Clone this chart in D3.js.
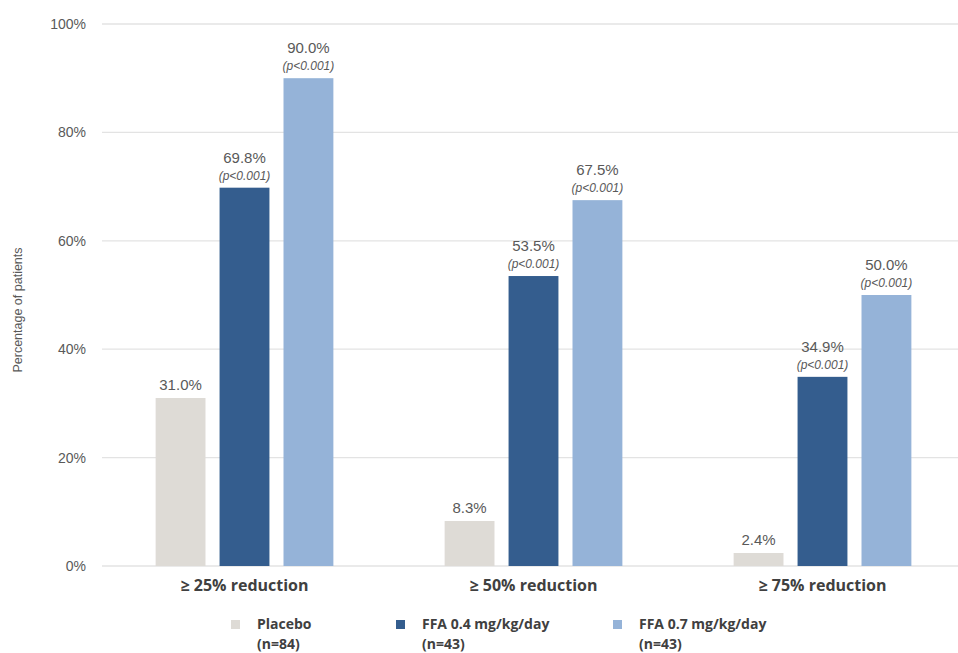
<!DOCTYPE html>
<html>
<head>
<meta charset="utf-8">
<script src="https://cdn.jsdelivr.net/npm/d3@7"></script>
<style>
  html, body { margin: 0; padding: 0; background: #fff; }
  svg { display: block; }
</style>
</head>
<body>
<svg id="chart" width="958" height="653"></svg>
<script>
// Responder rates by reduction threshold
const categories = ["≥ 25% reduction", "≥ 50% reduction", "≥ 75% reduction"];
const seriesNames = ["Placebo", "FFA 0.4 mg/kg/day", "FFA 0.7 mg/kg/day"];
const seriesN = ["(n=84)", "(n=43)", "(n=43)"];
const placebo = [31.0, 8.3, 2.4];
const ffa04 = [69.8, 53.5, 34.9];
const ffa07 = [90.0, 67.5, 50.0];
const pLabels = [
  [null, "(p<0.001)", "(p<0.001)"],
  [null, "(p<0.001)", "(p<0.001)"],
  [null, "(p<0.001)", "(p<0.001)"]
];
const yTicks = [0, 20, 40, 60, 80, 100];
const colors = ["#dedbd6", "#345d8e", "#95b3d8"];

const seriesValues = [placebo, ffa04, ffa07];
const svg = d3.select("#chart");

const y = d3.scaleLinear().domain([0, 100]).range([566, 24]);
const x0 = d3.scaleBand().domain(categories).range([100, 967]);
const x1 = d3.scaleBand().domain(d3.range(3)).range([0, x0.bandwidth()])
  .paddingInner(0.22).paddingOuter(0.87);

// gridlines
svg.append("g").selectAll("line").data(yTicks).join("line")
  .attr("x1", 102).attr("x2", 958)
  .attr("y1", d => y(d)).attr("y2", d => y(d))
  .attr("stroke", "#e3e3e3").attr("stroke-width", 1.3);

// y tick labels
const yAxis = d3.axisLeft(y).tickValues(yTicks).tickFormat(d => d + "%").tickSize(0).tickPadding(0);
const gy = svg.append("g").attr("transform", "translate(86,0)").call(yAxis);
gy.select(".domain").remove();
gy.selectAll("text")
  .attr("font-family", "Liberation Sans, Arial, sans-serif")
  .attr("font-size", 14).attr("fill", "#595959");

// y axis title
svg.append("text")
  .attr("transform", "translate(22,310) rotate(-90)")
  .attr("text-anchor", "middle")
  .attr("font-family", "Liberation Sans, Arial, sans-serif")
  .attr("font-size", 12.5).attr("fill", "#595959")
  .text("Percentage of patients");

// bars and labels
const groups = svg.append("g").selectAll("g").data(categories).join("g")
  .attr("transform", d => `translate(${x0(d)},0)`);

groups.each(function(cat, ci) {
  const g = d3.select(this);
  seriesValues.forEach((vals, si) => {
    const v = vals[ci];
    const bx = x1(si), bw = x1.bandwidth();
    g.append("rect")
      .attr("x", bx).attr("width", bw)
      .attr("y", y(v)).attr("height", y(0) - y(v))
      .attr("fill", colors[si]);
    const p = pLabels[ci][si];
    const top = y(v);
    if (p) {
      g.append("text")
        .attr("x", bx + bw / 2).attr("y", top - 8)
        .attr("text-anchor", "middle")
        .attr("font-family", "Liberation Sans, Arial, sans-serif")
        .attr("font-style", "italic")
        .attr("font-size", 12).attr("fill", "#595959")
        .text(p);
    }
    g.append("text")
      .attr("x", bx + bw / 2).attr("y", top - (p ? 25 : 8))
      .attr("text-anchor", "middle")
      .attr("font-family", "Liberation Sans, Arial, sans-serif")
      .attr("font-size", 15).attr("fill", "#595959")
      .text(v.toFixed(1) + "%");
  });
});

// category labels
const xAxis = d3.axisBottom(x0).tickSize(0).tickPadding(0);
const gx = svg.append("g").attr("transform", "translate(0,577)").call(xAxis);
gx.select(".domain").remove();
gx.selectAll("text")
  .attr("dy", "0.85em")
  .attr("font-family", "Open Sans, sans-serif")
  .attr("font-weight", "bold")
  .attr("font-size", 16).attr("fill", "#404040");

// legend
const legendX = [231, 396, 613];
const legend = svg.append("g").selectAll("g").data(seriesNames).join("g")
  .attr("transform", (d, i) => `translate(${legendX[i]},0)`);
legend.append("rect")
  .attr("x", 0).attr("y", 620).attr("width", 9).attr("height", 9)
  .attr("fill", (d, i) => colors[i]);
legend.append("text")
  .attr("x", 26).attr("y", 629)
  .attr("font-family", "Open Sans, sans-serif")
  .attr("font-weight", "bold")
  .attr("font-size", 14).attr("fill", "#404040")
  .text(d => d);
legend.append("text")
  .attr("x", 26).attr("y", 648.5)
  .attr("font-family", "Open Sans, sans-serif")
  .attr("font-weight", "bold")
  .attr("font-size", 14).attr("fill", "#404040")
  .text((d, i) => seriesN[i]);
</script>
</body>
</html>
